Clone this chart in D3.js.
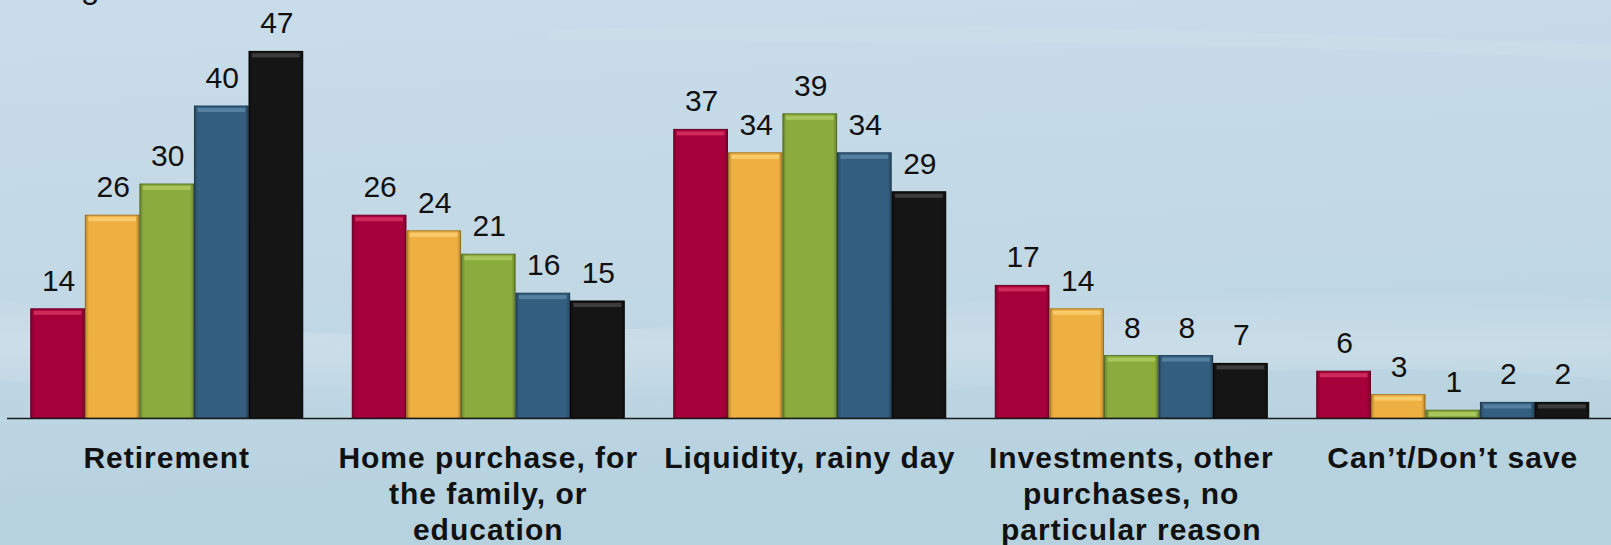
<!DOCTYPE html>
<html>
<head>
<meta charset="utf-8">
<script src="https://cdn.jsdelivr.net/npm/d3@7"></script>
<style>
  html, body { margin: 0; padding: 0; overflow: hidden; }
  svg { display: block; }
</style>
</head>
<body>
<svg id="chart" width="1611" height="545"></svg>
<script>
// ---- data ----
const categories = [
  "Retirement",
  "Home purchase, for the family, or education",
  "Liquidity, rainy day",
  "Investments, other purchases, no particular reason",
  "Can\u2019t/Don\u2019t save"
];
const categoryLines = [
  ["Retirement"],
  ["Home purchase, for", "the family, or", "education"],
  ["Liquidity, rainy day"],
  ["Investments, other", "purchases, no", "particular reason"],
  ["Can\u2019t/Don\u2019t save"]
];
const seriesNames = ["S1", "S2", "S3", "S4", "S5"];
const series1 = [14, 26, 37, 17, 6];
const series2 = [26, 24, 34, 14, 3];
const series3 = [30, 21, 39, 8, 1];
const series4 = [40, 16, 34, 8, 2];
const series5 = [47, 15, 29, 7, 2];
const seriesValues = [series1, series2, series3, series4, series5];
const seriesColors = ["#a6003a", "#eeb040", "#8aab3d", "#345f80", "#151515"];
const seriesHighlights = ["#cf2a5c", "#f7cb6a", "#a9c65c", "#5580a0", "#3c3c3c"];
const seriesEdges = ["#6e0026", "#a87a28", "#5d7629", "#203e55", "#000000"];
const cutLabel = "5";

const svg = d3.select("#chart");
const W = 1611, H = 545;

// background
const defs = svg.append("defs");
const bg = defs.append("linearGradient").attr("id", "bg").attr("x1", 0).attr("y1", 0).attr("x2", 0.15).attr("y2", 1);
bg.append("stop").attr("offset", "0%").attr("stop-color", "#c9dce9");
bg.append("stop").attr("offset", "55%").attr("stop-color", "#c2d8e5");
bg.append("stop").attr("offset", "100%").attr("stop-color", "#b5d2de");
svg.append("rect").attr("width", W).attr("height", H).attr("fill", "url(#bg)");

const sw = defs.append("linearGradient").attr("id", "swoosh").attr("x1", 0).attr("y1", 0).attr("x2", 0).attr("y2", 1);
sw.append("stop").attr("offset", "0%").attr("stop-color", "#ffffff").attr("stop-opacity", 0);
sw.append("stop").attr("offset", "50%").attr("stop-color", "#ffffff").attr("stop-opacity", 0.18);
sw.append("stop").attr("offset", "100%").attr("stop-color", "#ffffff").attr("stop-opacity", 0);
svg.append("path")
  .attr("d", "M0,300 C300,360 700,330 1000,300 C1250,275 1450,285 1611,300 L1611,380 C1400,360 1200,370 950,390 C650,410 300,420 0,380 Z")
  .attr("fill", "url(#swoosh)");
svg.append("path")
  .attr("d", "M550,30 C800,20 1100,25 1611,45 L1611,60 C1200,40 900,42 550,40 Z")
  .attr("fill", "#ffffff").attr("opacity", 0.06);

// side shading gradient for bars
const side = defs.append("linearGradient").attr("id", "side").attr("x1", 0).attr("y1", 0).attr("x2", 1).attr("y2", 0);
side.append("stop").attr("offset", "0%").attr("stop-color", "#000").attr("stop-opacity", 0.22);
side.append("stop").attr("offset", "7%").attr("stop-color", "#000").attr("stop-opacity", 0);
side.append("stop").attr("offset", "93%").attr("stop-color", "#000").attr("stop-opacity", 0);
side.append("stop").attr("offset", "100%").attr("stop-color", "#000").attr("stop-opacity", 0.22);

// scales
const baseY = 418;
const x0 = d3.scaleBand().domain(categories).range([6, 1613.5]).paddingInner(0.154).paddingOuter(0.077);
const x1 = d3.scaleBand().domain(seriesNames).range([0, x0.bandwidth()]).paddingInner(0.015);
const y = d3.scaleLinear().domain([0, 50]).range([baseY, baseY - 50 * 7.8]);

const data = [];
categories.forEach((c, ci) => {
  seriesNames.forEach((s, si) => {
    data.push({ cat: c, ser: s, si, v: seriesValues[si][ci] });
  });
});

const g = svg.append("g");
const bars = g.selectAll("g.bar").data(data).join("g").attr("class", "bar")
  .attr("transform", d => `translate(${x0(d.cat) + x1(d.ser)},0)`);

bars.append("rect")
  .attr("x", 0).attr("y", d => y(d.v))
  .attr("width", x1.bandwidth()).attr("height", d => baseY - y(d.v))
  .attr("fill", d => seriesColors[d.si])
  .attr("stroke", d => seriesEdges[d.si]).attr("stroke-width", 1);
bars.append("rect")
  .attr("x", 0).attr("y", d => y(d.v))
  .attr("width", x1.bandwidth()).attr("height", d => baseY - y(d.v))
  .attr("fill", "url(#side)");
bars.append("rect")
  .attr("x", 3).attr("y", d => y(d.v) + 2)
  .attr("width", x1.bandwidth() - 6)
  .attr("height", d => Math.min(4, Math.max(0, baseY - y(d.v) - 4)))
  .attr("fill", d => seriesHighlights[d.si]);

// value labels
g.selectAll("text.val").data(data).join("text").attr("class", "val")
  .attr("x", d => x0(d.cat) + x1(d.ser) + x1.bandwidth() / 2 + 1)
  .attr("y", d => y(d.v) - 18)
  .attr("text-anchor", "middle")
  .attr("font-family", "Arial, 'Liberation Sans', sans-serif")
  .attr("font-size", 30)
  .attr("fill", "#111")
  .text(d => d.v);

// baseline axis
svg.append("line").attr("x1", 7).attr("x2", W).attr("y1", baseY + 0.5).attr("y2", baseY + 0.5)
  .attr("stroke", "#1a1a1a").attr("stroke-width", 1.6);

// category labels
const cl = svg.selectAll("text.cat").data(categories).join("text").attr("class", "cat")
  .attr("x", d => x0(d) + x0.bandwidth() / 2)
  .attr("y", 467.7)
  .attr("text-anchor", "middle")
  .attr("font-family", "Arial, 'Liberation Sans', sans-serif")
  .attr("font-weight", "bold")
  .attr("font-size", 30)
  .attr("letter-spacing", 1)
  .attr("fill", "#111");
cl.selectAll("tspan").data((d, i) => categoryLines[i]).join("tspan")
  .attr("x", function () { return d3.select(this.parentNode).attr("x"); })
  .attr("dy", (d, i) => i === 0 ? 0 : 36)
  .text(d => d);

// cut-off glyph at the top left (partially visible in the reference)
svg.append("text").attr("x", 90).attr("y", 5).attr("text-anchor", "middle")
  .attr("font-family", "Arial, 'Liberation Sans', sans-serif").attr("font-size", 30)
  .attr("fill", "#111").text(cutLabel);
</script>
</body>
</html>
